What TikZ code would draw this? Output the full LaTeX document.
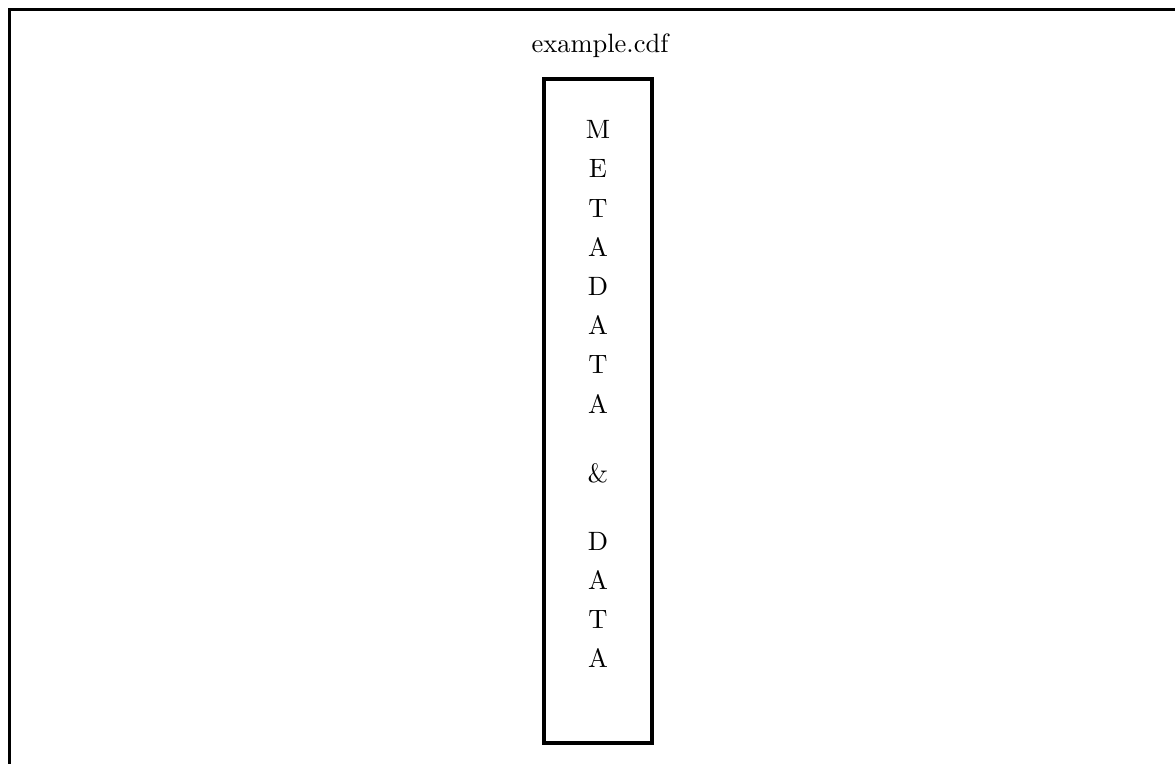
\documentclass[tikz,border=0pt]{standalone}
\begin{document}
\begin{tikzpicture}[x=0.3774pt,y=-0.3774pt,
  frame/.style={draw=black,line width=1.32pt},
  letter/.style={anchor=base,inner sep=0pt},
  title/.style={anchor=base,inner sep=0pt}]
  \useasboundingbox (0,0) rectangle (1175,763);
  \clip (0,0) rectangle (1175,763);
  % file outline, running past the page edges
  \draw[frame] (9.5,9.5) rectangle (1220,820);
  \node[title] (fname) at (600,52) {example.cdf};
  % column holding metadata and data
  \draw[frame] (544,79) rectangle (652,743);
  \coordinate (col) at (598,411);
  \foreach \ch/\yy [count=\i] in {M/138.6,E/177.8,T/217,A/256.2,D/295.4,A/334.6,T/373.8,A/413,\&/482,D/550,A/589.2,T/628.4,A/667.6}
    \node[letter] (l\i) at (598,\yy) {\ch};
\end{tikzpicture}
\end{document}
